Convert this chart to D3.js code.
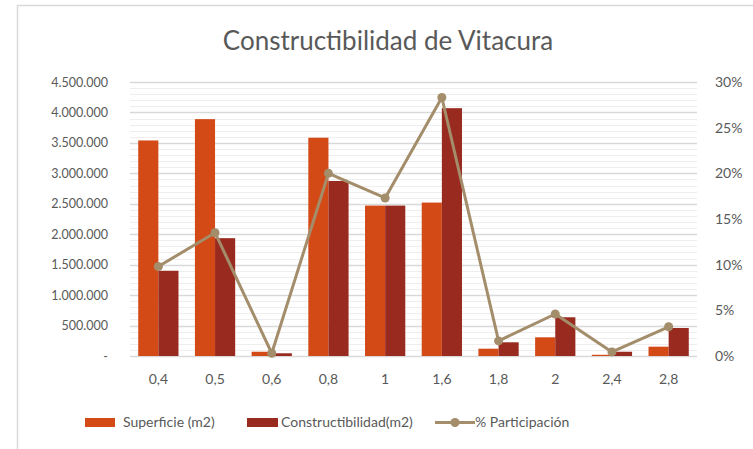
<!DOCTYPE html>
<html>
<head>
<meta charset="utf-8">
<script src="https://cdn.jsdelivr.net/npm/d3@7"></script>
<style>
	body { margin: 0; background: #fff; }
	text { font-family: Lato, "Noto Sans", sans-serif; fill: #595959; }
</style>
</head>
<body>
<script>
var categories = ["0,4", "0,5", "0,6", "0,8", "1", "1,6", "1,8", "2", "2,4", "2,8"];
var superficie = [3540000, 3890000, 70000, 3585000, 2470000, 2520000, 120000, 307000, 20000, 153000];
var constructibilidad = [1400000, 1935000, 45000, 2875000, 2470000, 4070000, 225000, 636000, 70000, 460000];
var participacion = [0.098, 0.135, 0.003, 0.200, 0.173, 0.283, 0.0165, 0.046, 0.0045, 0.032];
var leftTicks = [0, 500000, 1000000, 1500000, 2000000, 2500000, 3000000, 3500000, 4000000, 4500000];
var rightTicks = [0, 0.05, 0.10, 0.15, 0.20, 0.25, 0.30];

var width = 753, height = 449;
var colSup = "#d34a17", colCon = "#992a1f", colPct = "#a38d6b";

var svg = d3.select("body").append("svg")
	.attr("width", width)
	.attr("height", height);

// chart frame
svg.append("rect")
	.attr("x", 17.5).attr("y", 5.5)
	.attr("width", 760).attr("height", 460)
	.attr("fill", "none").attr("stroke", "#d9d9d9").attr("stroke-width", 1.5);

var pLeft = 130, pRight = 697, pTop = 82, pBottom = 356;

var x = d3.scaleBand().domain(categories).range([pLeft, pRight]).paddingInner(0.29).paddingOuter(0.145);
var y = d3.scaleLinear().domain([0, 4500000]).range([pBottom, pTop]);
var y2 = d3.scaleLinear().domain([0, 0.30]).range([pBottom, pTop]);

// gridlines, minor every 100.000
svg.append("g").selectAll("line")
	.data(d3.range(0, 4500001, 100000))
	.enter().append("line")
	.attr("x1", pLeft).attr("x2", pRight)
	.attr("y1", function (d) { return Math.round(y(d)) + 0.5 })
	.attr("y2", function (d) { return Math.round(y(d)) + 0.5 })
	.attr("stroke", function (d) { return d % 500000 === 0 ? "#d9d9d9" : "#eeeeee" })
	.attr("stroke-width", function (d) { return d % 500000 === 0 ? 1.3 : 1 });

// left axis
var yAxis = svg.append("g")
	.attr("transform", "translate(108,0)")
	.call(d3.axisLeft(y).tickValues(leftTicks).tickSize(0).tickPadding(0)
		.tickFormat(function (d) { return d === 0 ? "-" : d3.format(",")(d).replace(/,/g, ".") }));
yAxis.select(".domain").remove();
yAxis.selectAll("text").style("font-size", "12.5px").style("font-family", "Lato, sans-serif").attr("fill", "#595959");

// right axis
var y2Axis = svg.append("g")
	.attr("transform", "translate(715,0)")
	.call(d3.axisRight(y2).tickValues(rightTicks).tickSize(0).tickPadding(0)
		.tickFormat(d3.format(".0%")));
y2Axis.select(".domain").remove();
y2Axis.selectAll("text").style("font-size", "14px").style("font-family", "Lato, sans-serif").attr("fill", "#595959");

// x axis labels
var xAxis = svg.append("g")
	.attr("transform", "translate(0," + pBottom + ")")
	.call(d3.axisBottom(x).tickSize(0).tickPadding(18));
xAxis.select(".domain").remove();
xAxis.selectAll("text").style("font-size", "14px").style("font-family", "Lato, sans-serif").attr("fill", "#595959");

var bw = x.bandwidth() / 2;

svg.append("g").selectAll("rect")
	.data(superficie)
	.enter().append("rect")
	.attr("x", function (d, i) { return x(categories[i]) })
	.attr("y", function (d) { return y(d) })
	.attr("width", bw)
	.attr("height", function (d) { return pBottom - y(d) })
	.attr("fill", colSup);

svg.append("g").selectAll("rect")
	.data(constructibilidad)
	.enter().append("rect")
	.attr("x", function (d, i) { return x(categories[i]) + bw })
	.attr("y", function (d) { return y(d) })
	.attr("width", bw)
	.attr("height", function (d) { return pBottom - y(d) })
	.attr("fill", colCon);

// line
var line = d3.line()
	.x(function (d, i) { return x(categories[i]) + bw })
	.y(function (d) { return y2(d) });

svg.append("path")
	.datum(participacion)
	.attr("d", line)
	.attr("fill", "none")
	.attr("stroke", colPct)
	.attr("stroke-width", 3)
	.attr("stroke-linejoin", "round");

svg.append("g").selectAll("circle")
	.data(participacion)
	.enter().append("circle")
	.attr("cx", function (d, i) { return x(categories[i]) + bw })
	.attr("cy", function (d) { return y2(d) })
	.attr("r", 4.5)
	.attr("fill", colPct);

// title
svg.append("text")
	.attr("x", 388).attr("y", 50)
	.attr("text-anchor", "middle")
	.style("font-size", "26px")
	.text("Constructibilidad de Vitacura");

// legend
var lg = svg.append("g").style("font-size", "14px");
lg.append("rect").attr("x", 85).attr("y", 418).attr("width", 30).attr("height", 9).attr("fill", colSup);
lg.append("text").attr("x", 123).attr("y", 427).text("Superficie (m2)");
lg.append("rect").attr("x", 247).attr("y", 418).attr("width", 31).attr("height", 9).attr("fill", colCon);
lg.append("text").attr("x", 281).attr("y", 427).text("Constructibilidad(m2)");
lg.append("line").attr("x1", 435).attr("x2", 475).attr("y1", 422.5).attr("y2", 422.5)
	.attr("stroke", colPct).attr("stroke-width", 3);
lg.append("circle").attr("cx", 455).attr("cy", 422.5).attr("r", 4.5).attr("fill", colPct);
lg.append("text").attr("x", 475).attr("y", 427).text("% Participación");
</script>
</body>
</html>
